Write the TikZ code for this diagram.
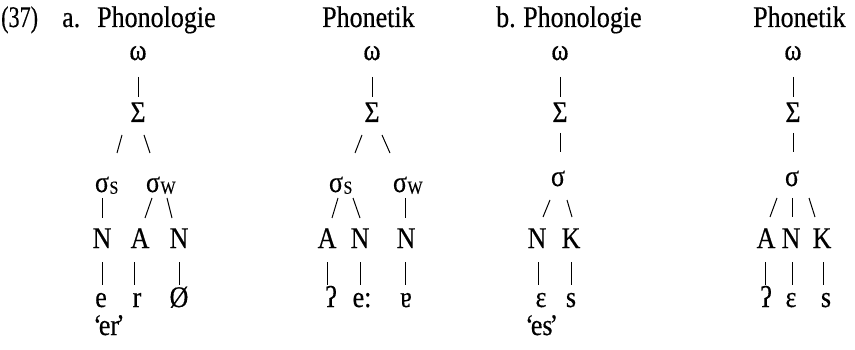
\documentclass[tikz,border=0pt]{standalone}
\usepackage{fontspec}
\usepackage{graphicx}
\setmainfont{Liberation Serif}[UprightFeatures={FakeBold=0.4}]
\usetikzlibrary{calc}
% the type is set slightly taller than it is wide
\newcommand\tall[1]{\scalebox{1}[1.15]{#1}}
% gloss in tight single quotes
\newcommand\gloss[1]{\tall{‘\kern-3pt#1\kern-3pt’}}
\tikzset{
  lbl/.style={inner sep=0pt, anchor=base, font=\fontsize{26}{30}\selectfont},
  ttl/.style={inner sep=0pt, anchor=base west, font=\fontsize{26}{30}\selectfont},
  link/.style={line width=1pt},
}
% connector between two nodes, each end given as an offset from the node's base anchor
\newcommand\tlink[6]{\draw[link] ($(#1.base)+(#3,#4)$) -- ($(#2.base)+(#5,#6)$);}
% small subscript letter beside a sigma (does not widen the node)
\newcommand\subsc[1]{\rlap{\hspace{0.5pt}\raisebox{-1.5pt}{\fontsize{16}{20}\selectfont #1}}}
\begin{document}
\begin{tikzpicture}[x=1pt,y=-1pt]
\useasboundingbox (0,0) rectangle (855,350);

% headings
\node[ttl] (num) at (1,27) {\scalebox{0.85}[1.15]{(37)}};
\node[ttl] (ia) at (62,27) {\tall{a.}};
\node[ttl] (ha) at (97,27) {\tall{Phonologie}};
\node[ttl] (hb) at (322,27) {\tall{Phonetik}};
\node[ttl] (ib) at (496,27) {\tall{b.}};
\node[ttl] (hc) at (523,27) {\tall{Phonologie}};
\node[ttl] (hd) at (753,27) {\tall{Phonetik}};

% (a) phonological structure
\node[lbl] (w1) at (138,60) {\tall{ω}};
\node[lbl] (S1) at (138,122) {\tall{Σ}};
\node[lbl] (sS1) at (102,192) {\tall{σ\subsc{S}}};
\node[lbl] (sW1) at (153,192) {\tall{σ\subsc{W}}};
\node[lbl] (N1a) at (102,248) {\tall{N}};
\node[lbl] (A1) at (140,248) {\tall{A}};
\node[lbl] (N1b) at (179,248) {\tall{N}};
\node[lbl] (e1) at (101,307) {\tall{e}};
\node[lbl] (r1) at (137,307) {\tall{r}};
\node[lbl] (O1) at (179,307) {\tall{Ø}};
\node[ttl] (g1) at (93,335) {\gloss{er}};
\tlink{w1}{S1}{0}{17}{0}{-25}
\tlink{S1}{sS1}{-16}{13}{15}{-39}
\tlink{S1}{sW1}{6}{13}{-3}{-39}
\tlink{sS1}{N1a}{0}{6}{0}{-30}
\tlink{sW1}{A1}{-1}{6}{5}{-30}
\tlink{sW1}{N1b}{14}{6}{-7}{-30}
\tlink{N1a}{e1}{0}{14}{1}{-22}
\tlink{A1}{r1}{-6}{14}{-3}{-22}
\tlink{N1b}{O1}{0}{14}{0}{-22}

% (a) phonetic structure
\node[lbl] (w2) at (372,60) {\tall{ω}};
\node[lbl] (S2) at (372,122) {\tall{Σ}};
\node[lbl] (sS2) at (336,192) {\tall{σ\subsc{S}}};
\node[lbl] (sW2) at (400,192) {\tall{σ\subsc{W}}};
\node[lbl] (A2) at (327,248) {\tall{A}};
\node[lbl] (N2a) at (360,248) {\tall{N}};
\node[lbl] (N2b) at (406,248) {\tall{N}};
\node[lbl] (q2) at (331,307) {\tall{ʔ}};
\node[lbl] (e2) at (362,307) {\tall{e:}};
\node[lbl] (a2) at (406,307) {\tall{ɐ}};
\tlink{w2}{S2}{0}{17}{0}{-25}
\tlink{S2}{sS2}{-10}{13}{19}{-39}
\tlink{S2}{sW2}{10}{13}{-10}{-39}
\tlink{sS2}{A2}{2}{6}{5}{-30}
\tlink{sS2}{N2a}{17}{6}{0}{-30}
\tlink{sW2}{N2b}{5}{6}{-1}{-30}
\tlink{A2}{q2}{0}{14}{-4}{-22}
\tlink{N2a}{e2}{0}{14}{-2}{-22}
\tlink{N2b}{a2}{-1}{14}{-1}{-22}

% (b) phonological structure
\node[lbl] (w3) at (560,60) {\tall{ω}};
\node[lbl] (S3) at (560,122) {\tall{Σ}};
\node[lbl] (s3) at (558,186) {\tall{σ}};
\node[lbl] (N3) at (537,248) {\tall{N}};
\node[lbl] (K3) at (571,248) {\tall{K}};
\node[lbl] (eps3) at (541,307) {\tall{ε}};
\node[lbl] (ss3) at (571,307) {\tall{s}};
\node[ttl] (g2) at (525,335) {\gloss{es}};
\tlink{w3}{S3}{0}{17}{0}{-25}
\tlink{S3}{s3}{0}{11}{2}{-34}
\tlink{s3}{N3}{-8}{14}{6}{-31}
\tlink{s3}{K3}{9}{14}{1}{-31}
\tlink{N3}{eps3}{1}{14}{-3}{-22}
\tlink{K3}{ss3}{0}{14}{0}{-22}

% (b) phonetic structure
\node[lbl] (w4) at (793,60) {\tall{ω}};
\node[lbl] (S4) at (793,122) {\tall{Σ}};
\node[lbl] (s4) at (792,186) {\tall{σ}};
\node[lbl] (A4) at (766,248) {\tall{A}};
\node[lbl] (N4) at (791,248) {\tall{N}};
\node[lbl] (K4) at (822,248) {\tall{K}};
\node[lbl] (q4) at (766,307) {\tall{ʔ}};
\node[lbl] (eps4) at (791,307) {\tall{ε}};
\node[lbl] (ss4) at (826,307) {\tall{s}};
\tlink{w4}{S4}{0}{17}{0}{-25}
\tlink{S4}{s4}{0}{11}{1}{-34}
\tlink{s4}{A4}{-15}{12}{4}{-31}
\tlink{s4}{N4}{0}{12}{1}{-31}
\tlink{s4}{K4}{17}{12}{-7}{-31}
\tlink{A4}{q4}{-1}{14}{-1}{-22}
\tlink{N4}{eps4}{1}{14}{1}{-22}
\tlink{K4}{ss4}{1}{14}{-3}{-22}
\end{tikzpicture}
\end{document}
